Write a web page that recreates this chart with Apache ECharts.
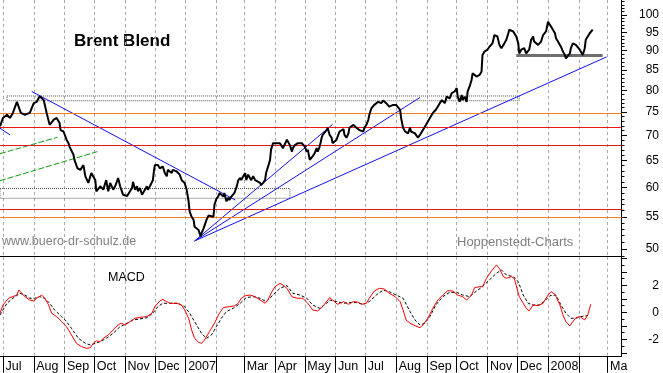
<!DOCTYPE html>
<html>
<head>
<meta charset="utf-8">
<script src="https://cdn.jsdelivr.net/npm/echarts@6/dist/echarts.min.js"></script>
<style>
html,body{margin:0;padding:0;background:#fff;}
#chart{width:663px;height:373px;}
</style>
</head>
<body>
<div id="chart"></div>
<script>
// ---------------- DATA ----------------
const priceDates = [
 '2006-06-28','2006-07-01','2006-07-05','2006-07-08','2006-07-11','2006-07-15','2006-07-16','2006-07-19','2006-07-23','2006-07-25','2006-07-28',
 '2006-08-01','2006-08-04','2006-08-07','2006-08-11','2006-08-14','2006-08-17','2006-08-21','2006-08-24','2006-08-27','2006-08-28','2006-08-31',
 '2006-09-03','2006-09-05','2006-09-06','2006-09-10','2006-09-11','2006-09-14','2006-09-17','2006-09-18','2006-09-20','2006-09-22','2006-09-25','2006-09-28',
 '2006-10-02','2006-10-03','2006-10-07','2006-10-10','2006-10-13','2006-10-15','2006-10-17','2006-10-20','2006-10-22','2006-10-25','2006-10-27','2006-10-30',
 '2006-11-03','2006-11-04','2006-11-08','2006-11-09','2006-11-11','2006-11-13','2006-11-14','2006-11-16','2006-11-18','2006-11-19','2006-11-23','2006-11-24','2006-11-26','2006-11-29','2006-11-30',
 '2006-12-01','2006-12-03','2006-12-04','2006-12-06','2006-12-09','2006-12-11','2006-12-13','2006-12-14','2006-12-16','2006-12-18','2006-12-19','2006-12-23','2006-12-26','2006-12-28','2006-12-31',
 '2007-01-02','2007-01-04','2007-01-05','2007-01-07','2007-01-09','2007-01-10','2007-01-12','2007-01-14','2007-01-16','2007-01-17','2007-01-19','2007-01-20','2007-01-22','2007-01-24','2007-01-25','2007-01-29','2007-01-30',
 '2007-02-01','2007-02-03','2007-02-04','2007-02-06','2007-02-08','2007-02-09','2007-02-11','2007-02-13','2007-02-14','2007-02-16','2007-02-18','2007-02-19','2007-02-21','2007-02-23','2007-02-25','2007-02-26','2007-02-28',
 '2007-03-02','2007-03-03','2007-03-05','2007-03-07','2007-03-08','2007-03-10','2007-03-12','2007-03-13','2007-03-17','2007-03-18','2007-03-20','2007-03-22','2007-03-23','2007-03-25','2007-03-27','2007-03-28','2007-03-30',
 '2007-04-01','2007-04-02','2007-04-04','2007-04-06','2007-04-07','2007-04-09','2007-04-11','2007-04-13','2007-04-14','2007-04-16','2007-04-18','2007-04-19','2007-04-21','2007-04-23','2007-04-24','2007-04-26','2007-04-28','2007-04-29',
 '2007-05-01','2007-05-03','2007-05-04','2007-05-06','2007-05-08','2007-05-09','2007-05-11','2007-05-13','2007-05-14','2007-05-16','2007-05-18','2007-05-19','2007-05-21','2007-05-23','2007-05-24','2007-05-26','2007-05-28','2007-05-29','2007-05-31',
 '2007-06-02','2007-06-03','2007-06-05','2007-06-07','2007-06-09','2007-06-10','2007-06-12','2007-06-14','2007-06-15','2007-06-17','2007-06-19','2007-06-20','2007-06-22','2007-06-25','2007-06-27','2007-06-29','2007-06-30',
 '2007-07-02','2007-07-04','2007-07-05','2007-07-07','2007-07-09','2007-07-10','2007-07-12','2007-07-14','2007-07-15','2007-07-17','2007-07-19','2007-07-20','2007-07-22','2007-07-24','2007-07-25','2007-07-27','2007-07-29','2007-07-31',
 '2007-08-01','2007-08-03','2007-08-05','2007-08-06','2007-08-08','2007-08-10','2007-08-11','2007-08-13','2007-08-15','2007-08-16','2007-08-18','2007-08-20','2007-08-21','2007-08-23','2007-08-25','2007-08-28','2007-08-31',
 '2007-09-04','2007-09-07','2007-09-10','2007-09-14','2007-09-16','2007-09-17','2007-09-19','2007-09-21','2007-09-22','2007-09-24','2007-09-26','2007-09-27','2007-09-29',
 '2007-10-01','2007-10-02','2007-10-04','2007-10-06','2007-10-07','2007-10-09','2007-10-11','2007-10-12','2007-10-14','2007-10-16','2007-10-17','2007-10-19','2007-10-21','2007-10-24','2007-10-26','2007-10-27','2007-10-29','2007-10-31',
 '2007-11-01','2007-11-03','2007-11-05','2007-11-06','2007-11-08','2007-11-10','2007-11-11','2007-11-13','2007-11-15','2007-11-17','2007-11-18','2007-11-20','2007-11-22','2007-11-23','2007-11-25','2007-11-27','2007-11-28','2007-11-30',
 '2007-12-02','2007-12-03','2007-12-05','2007-12-07','2007-12-08','2007-12-10','2007-12-12','2007-12-13','2007-12-15','2007-12-17','2007-12-18','2007-12-20','2007-12-22','2007-12-23','2007-12-25','2007-12-27','2007-12-28','2007-12-30',
 '2008-01-01','2008-01-03','2008-01-04','2008-01-06','2008-01-08','2008-01-09','2008-01-11','2008-01-13','2008-01-14','2008-01-16','2008-01-18','2008-01-19','2008-01-21','2008-01-23','2008-01-24','2008-01-26','2008-01-28','2008-01-29','2008-01-31',
 '2008-02-02','2008-02-03','2008-02-05','2008-02-07','2008-02-08','2008-02-10','2008-02-12','2008-02-13','2008-02-15'
];
const priceValues = [
 71.9,73.7,74.4,73.7,74.8,77.3,77.0,74.8,74.4,74.1,74.8,
 77.0,77.3,78.6,77.7,74.8,72.2,73.3,73.7,72.6,71.1,70.8,
 69.1,68.4,67.7,66.1,65.1,63.5,63.2,63.5,64.1,62.0,60.8,62.6,
 61.3,59.3,60.2,59.6,61.3,59.3,60.8,59.6,60.2,61.7,60.2,58.7,
 58.5,58.7,59.9,61.0,59.6,60.2,59.3,59.9,58.7,59.0,60.2,59.6,60.2,61.3,62.9,
 64.1,63.8,64.1,63.5,63.8,62.6,62.0,63.2,63.5,62.6,63.2,62.9,62.3,61.3,60.8,
 59.6,57.5,55.9,55.0,54.5,53.4,53.1,52.9,51.9,52.4,53.1,53.4,54.5,55.2,55.3,55.0,57.0,
 58.0,58.5,59.0,58.7,58.4,59.0,57.6,58.2,57.8,58.4,58.7,59.0,59.9,61.3,61.7,61.3,62.0,
 62.6,61.3,62.3,62.3,61.3,62.0,61.3,61.0,60.8,60.4,60.8,61.3,62.6,63.8,65.1,67.1,68.4,
 68.7,68.4,68.7,68.4,68.7,67.4,67.7,69.1,69.2,68.0,66.7,67.4,68.0,68.4,68.4,68.0,68.4,68.0,
 67.7,66.7,67.1,65.1,65.4,65.8,66.4,67.4,66.7,67.7,69.5,70.1,70.4,71.1,71.6,70.1,69.5,68.4,68.0,
 69.1,69.7,70.8,71.1,71.3,70.1,69.5,70.4,71.6,71.9,72.2,71.9,71.6,71.1,70.8,70.8,71.6,
 72.2,73.3,74.4,75.8,76.2,76.6,76.8,77.3,77.7,77.0,77.6,77.7,77.0,77.3,76.2,76.6,76.6,76.2,
 76.6,76.6,75.5,73.7,71.6,70.8,71.1,70.4,71.6,70.8,71.1,70.4,70.1,69.5,70.1,71.1,72.2,
 73.7,74.8,75.5,77.0,77.7,77.3,77.0,78.5,78.9,78.1,79.3,78.9,79.7,
 80.5,78.5,77.3,78.9,77.7,78.5,77.3,79.7,80.9,82.5,84.1,84.5,83.3,83.7,84.5,88.8,89.7,90.2,
 90.2,91.0,91.5,91.9,94.2,94.7,93.8,91.5,90.6,91.0,91.9,92.9,94.7,95.7,95.7,95.2,95.7,93.8,
 91.9,89.2,90.2,89.7,90.6,89.2,89.7,90.2,92.9,93.8,92.4,91.9,91.5,91.9,92.4,94.2,94.7,95.2,
 98.0,97.6,96.6,96.1,94.7,93.3,92.4,92.4,91.0,89.7,88.8,87.9,87.9,89.2,90.6,91.9,92.4,91.5,91.0,
 90.2,89.7,88.8,90.6,92.9,93.8,94.7,95.2,95.7
];

const macdDates = [
 '2006-06-28','2006-07-01','2006-07-05','2006-07-08','2006-07-11','2006-07-15','2006-07-17','2006-07-20','2006-07-23','2006-07-28',
 '2006-08-01','2006-08-04','2006-08-09','2006-08-12','2006-08-16','2006-08-19','2006-08-24','2006-08-29',
 '2006-09-03','2006-09-08','2006-09-13','2006-09-18','2006-09-23','2006-09-27','2006-09-30',
 '2006-10-03','2006-10-07','2006-10-10','2006-10-15','2006-10-20','2006-10-25','2006-10-28',
 '2006-11-01','2006-11-06','2006-11-11','2006-11-16','2006-11-23','2006-11-28',
 '2006-12-01','2006-12-06','2006-12-09','2006-12-13','2006-12-16','2006-12-23','2006-12-28','2006-12-31',
 '2007-01-04','2007-01-07','2007-01-10','2007-01-14','2007-01-17','2007-01-20','2007-01-25','2007-01-30',
 '2007-02-04','2007-02-08','2007-02-14','2007-02-19','2007-02-23','2007-02-26',
 '2007-03-02','2007-03-07','2007-03-12','2007-03-17','2007-03-22','2007-03-25','2007-03-28',
 '2007-04-01','2007-04-06','2007-04-09','2007-04-13','2007-04-18','2007-04-23','2007-04-29',
 '2007-05-04','2007-05-09','2007-05-14','2007-05-19','2007-05-26','2007-05-29',
 '2007-06-03','2007-06-09','2007-06-14','2007-06-19','2007-06-24','2007-06-27',
 '2007-07-02','2007-07-05','2007-07-10','2007-07-15','2007-07-20','2007-07-25','2007-07-31',
 '2007-08-05','2007-08-08','2007-08-11','2007-08-15','2007-08-20','2007-08-25','2007-08-28',
 '2007-09-02','2007-09-07','2007-09-12','2007-09-17','2007-09-22','2007-09-27',
 '2007-10-02','2007-10-07','2007-10-11','2007-10-16','2007-10-19','2007-10-24','2007-10-27','2007-10-31',
 '2007-11-05','2007-11-10','2007-11-13','2007-11-17','2007-11-20','2007-11-25','2007-11-28',
 '2007-12-03','2007-12-07','2007-12-10','2007-12-13','2007-12-17','2007-12-22','2007-12-27',
 '2008-01-01','2008-01-04','2008-01-08','2008-01-13','2008-01-16','2008-01-19','2008-01-23','2008-01-26','2008-01-29',
 '2008-02-02','2008-02-07','2008-02-10','2008-02-13'
];
const macdValues = [
 -0.07,0.54,0.91,1.09,1.16,1.28,1.65,1.41,1.16,0.91,
 0.84,1.04,1.28,1.04,0.54,-0.07,-0.32,-0.69,
 -1.06,-1.68,-2.30,-2.54,-2.67,-2.62,-2.30,
 -2.12,-2.17,-1.93,-1.68,-1.31,-0.94,-0.81,
 -0.94,-0.69,-0.44,-0.37,-0.32,-0.07,
 0.42,0.84,0.96,0.79,0.67,0.67,0.54,0.17,
 -0.44,-1.31,-1.93,-2.22,-2.30,-2.05,-1.43,-0.81,
 -0.07,0.35,0.42,0.47,0.67,1.04,
 1.23,1.28,1.16,0.91,0.67,0.91,1.41,
 1.90,2.15,2.02,1.78,1.16,1.04,1.04,
 0.67,0.17,0.10,0.42,1.09,0.91,
 0.59,0.79,0.59,0.79,0.74,0.59,
 0.67,1.04,1.58,1.78,1.73,1.41,1.16,
 0.79,0.17,-0.57,-0.81,-0.99,-1.14,-0.94,
 -0.44,0.30,0.91,1.28,1.60,1.58,
 1.28,1.16,0.91,1.28,1.83,1.90,1.90,2.52,
 3.06,3.51,3.26,2.64,2.52,2.64,2.52,
 1.16,0.67,0.30,0.10,0.54,0.49,0.67,
 1.28,1.53,1.33,0.54,-0.20,-0.69,-1.01,-0.69,-0.40,
 -0.32,-0.57,-0.20,0.59
];

const signalDates = [
 '2006-06-28','2006-07-05','2006-07-11','2006-07-18','2006-07-23','2006-07-28',
 '2006-08-02','2006-08-07','2006-08-12','2006-08-17','2006-08-22','2006-08-29',
 '2006-09-03','2006-09-08','2006-09-15','2006-09-22','2006-09-27',
 '2006-10-02','2006-10-07','2006-10-13','2006-10-20','2006-10-27',
 '2006-11-03','2006-11-09','2006-11-16','2006-11-23','2006-11-29',
 '2006-12-04','2006-12-09','2006-12-16','2006-12-24','2006-12-31',
 '2007-01-05','2007-01-12','2007-01-17','2007-01-22','2007-01-27',
 '2007-02-01','2007-02-06','2007-02-11','2007-02-18','2007-02-25',
 '2007-03-03','2007-03-10','2007-03-17','2007-03-23','2007-03-30',
 '2007-04-06','2007-04-13','2007-04-19','2007-04-26',
 '2007-05-03','2007-05-09','2007-05-16','2007-05-23','2007-05-26',
 '2007-06-02','2007-06-09','2007-06-15','2007-06-22','2007-06-29',
 '2007-07-05','2007-07-12','2007-07-19','2007-07-25',
 '2007-08-01','2007-08-08','2007-08-15','2007-08-20','2007-08-25','2007-08-30',
 '2007-09-04','2007-09-10','2007-09-17','2007-09-24',
 '2007-10-01','2007-10-07','2007-10-14','2007-10-21','2007-10-27',
 '2007-11-03','2007-11-10','2007-11-15','2007-11-20','2007-11-27',
 '2007-12-02','2007-12-07','2007-12-12','2007-12-17','2007-12-23','2007-12-28',
 '2008-01-03','2008-01-09','2008-01-14','2008-01-19','2008-01-24','2008-01-29',
 '2008-02-03','2008-02-10'
];
const signalValues = [
 -0.20,0.67,1.04,1.41,1.28,1.04,
 1.04,1.16,1.04,0.67,0.17,-0.32,
 -0.69,-1.19,-1.93,-2.30,-2.42,
 -2.30,-2.17,-1.93,-1.56,-1.06,
 -0.81,-0.57,-0.49,-0.40,-0.07,
 0.42,0.67,0.67,0.67,0.42,
 -0.07,-0.94,-1.56,-1.93,-1.68,
 -1.06,-0.44,0.05,0.30,0.67,
 1.09,1.16,1.04,0.79,1.28,
 1.78,1.98,1.41,1.28,
 1.04,0.54,0.30,0.67,0.91,
 0.79,0.67,0.72,0.74,0.59,
 0.79,1.28,1.65,1.53,
 1.28,1.04,0.05,-0.57,-0.94,-0.81,
 -0.32,0.54,1.16,1.48,
 1.48,1.28,1.16,1.58,1.90,
 2.40,2.89,3.14,2.77,2.64,
 2.27,1.28,0.67,0.54,0.54,0.79,
 1.23,1.28,0.54,-0.07,-0.44,-0.44,
 -0.32,-0.25
];

// axis ticks / labels
const monthTicks = ['2006-07-01','2006-08-01','2006-09-01','2006-10-01','2006-11-01','2006-12-01','2007-01-01','2007-02-01','2007-03-01','2007-04-01','2007-05-01','2007-06-01','2007-07-01','2007-08-01','2007-09-01','2007-10-01','2007-11-01','2007-12-01','2008-01-01','2008-02-01','2008-03-01'];
const monthLabels = ['Jul','Aug','Sep','Oct','Nov','Dec','2007','','Mar','Apr','May','Jun','Jul','Aug','Sep','Oct','Nov','Dec','2008','','Mar'];
const priceTickLabels = [50,55,60,65,70,75,80,85,90,95,100];
const macdTickLabels = [-2,0,2];

// drawn annotations (in data units)
const blueLines = [
 [['2006-07-30',79.7],['2007-02-20',57.8]],
 [['2006-06-28',71.5],['2006-07-08',70.1]],
 [['2007-01-10',51.2],['2007-05-29',72.3]],
 [['2007-01-10',51.2],['2007-08-25',78.3]],
 [['2007-01-10',51.2],['2008-02-29',88.3]]
];
const greenLines = [
 [['2006-06-28',66.3],['2006-08-25',69.6]],
 [['2006-06-28',61.2],['2006-10-04',66.7]]
];
const redLevels = [71.7, 68.0, 56.24];
const orangeLevels = [74.73, 54.92];
const supportLine = [['2007-11-30',88.77],['2008-02-25',88.77]];
const boxes = [
 [['2006-07-05',78.65],['2007-12-03',77.55]],
 [['2006-06-28',59.8],['2007-04-16',58.1]]
];

// ---------------- CHART ----------------
const FONT = '"Liberation Sans", Arial, sans-serif';
// dates -> timestamps (UTC) for a linear value x-axis
function ts(s) { const p = s.split('-'); return Date.UTC(+p[0], +p[1] - 1, +p[2]); }
const X_MIN = ts('2006-06-28'), X_MAX = ts('2008-03-15');
const tickTs = monthTicks.map(ts);
const labelMap = {};
tickTs.forEach((t, i) => { labelMap[t] = monthLabels[i]; });
function monthLabel(v) {
  let best = '', bd = Infinity;
  for (const k in labelMap) { const d = Math.abs(+k - v); if (d < bd) { bd = d; best = labelMap[k]; } }
  return bd < 86400000 ? best : '';
}
const pt = (c) => [ts(c[0]), c[1]];
const priceMinorTicks = [];
for (let v = 49; v <= 104; v++) priceMinorTicks.push(v);
const macdMinorTicks = [];
for (let v = -3; v <= 4; v += 0.5) macdMinorTicks.push(v);
const macdMajorTicks = [-3,-2,-1,0,1,2,3,4];

const gridSplit = {show: true, lineStyle: {color: '#a8a8a8', type: [3, 3], width: 1}};

const markLineData = [];
blueLines.forEach(l => markLineData.push([
  {coord: pt(l[0]), lineStyle: {color: '#1010f0', width: 1, type: 'solid'}}, {coord: pt(l[1])}
]));
greenLines.forEach(l => markLineData.push([
  {coord: pt(l[0]), lineStyle: {color: '#109a10', width: 1, type: [6, 2]}}, {coord: pt(l[1])}
]));
redLevels.forEach(v => markLineData.push({yAxis: v, lineStyle: {color: '#e81818', width: 1, type: 'solid'}}));
orangeLevels.forEach(v => markLineData.push({yAxis: v, lineStyle: {color: '#f2801e', width: 1, type: 'solid'}}));
markLineData.push([
  {coord: pt(supportLine[0]), lineStyle: {color: '#6e6e6e', width: 3, type: 'solid'}}, {coord: pt(supportLine[1])}
]);

const chart = echarts.init(document.getElementById('chart'), null, {renderer: 'canvas'});
const xBase = {type: 'value', min: X_MIN, max: X_MAX, position: 'bottom', scale: true};
chart.setOption({
  animation: false,
  backgroundColor: '#ffffff',
  textStyle: {fontFamily: FONT},
  grid: [
    {left: 0, right: 41.5, top: 0, height: 256.7, containLabel: false, outerBoundsMode: 'none'},
    {left: 0, right: 41.5, top: 256.7, height: 100, containLabel: false, outerBoundsMode: 'none'}
  ],
  xAxis: [
    Object.assign({}, xBase, {gridIndex: 0,
     axisLine: {show: true, onZero: false, lineStyle: {color: '#000', width: 1}},
     axisTick: {show: false, customValues: tickTs},
     axisLabel: {show: false},
     splitLine: gridSplit}),
    Object.assign({}, xBase, {gridIndex: 1,
     axisLine: {show: true, onZero: false, lineStyle: {color: '#000', width: 1}},
     axisTick: {show: true, customValues: tickTs, length: 16, lineStyle: {color: '#000', width: 1}},
     axisLabel: {show: true, customValues: tickTs.slice(0, tickTs.length - 1),
       formatter: v => monthLabel(v), align: 'left', padding: [0, 0, 0, 2.5], margin: 3,
       color: '#000', fontSize: 12.5, fontFamily: FONT},
     splitLine: gridSplit}),
    Object.assign({}, xBase, {gridIndex: 1,
     axisLine: {show: false}, axisTick: {show: false}, splitLine: {show: false},
     axisLabel: {show: true, customValues: tickTs.slice(tickTs.length - 1),
       formatter: v => monthLabel(v), align: 'left', padding: [0, 0, 0, 2.5], margin: 3,
       width: 21, overflow: 'truncate', ellipsis: '',
       color: '#000', fontSize: 12.5, fontFamily: FONT}})
  ],
  yAxis: [
    {type: 'log', logBase: 10, gridIndex: 0, position: 'right', min: 48.87, max: 104.5,
     axisLine: {show: true, lineStyle: {color: '#000', width: 1}},
     axisTick: {show: true, inside: false, length: 3, customValues: priceMinorTicks, lineStyle: {color: '#000'}},
     axisLabel: {show: false}, splitLine: {show: false}},
    {type: 'log', logBase: 10, gridIndex: 0, position: 'right', min: 48.87, max: 104.5,
     axisLine: {show: false},
     axisTick: {show: true, inside: false, length: 5.5, customValues: priceTickLabels, lineStyle: {color: '#000'}},
     axisLabel: {show: true, customValues: priceTickLabels, formatter: v => String(Math.round(v)),
       align: 'right', margin: 37.5, color: '#000', fontSize: 12, fontFamily: FONT},
     splitLine: {show: false}},
    {type: 'value', gridIndex: 1, position: 'right', min: -3.29, max: 4.12,
     axisLine: {show: true, lineStyle: {color: '#000', width: 1}},
     axisTick: {show: true, inside: false, length: 3, customValues: macdMinorTicks, lineStyle: {color: '#000'}},
     axisLabel: {show: false}, splitLine: {show: false}},
    {type: 'value', gridIndex: 1, position: 'right', min: -3.29, max: 4.12,
     axisLine: {show: false},
     axisTick: {show: true, inside: false, length: 5.5, customValues: macdMajorTicks, lineStyle: {color: '#000'}},
     axisLabel: {show: true, customValues: macdTickLabels, formatter: v => String(Math.round(v)),
       align: 'right', margin: 37.5, color: '#000', fontSize: 12, fontFamily: FONT},
     splitLine: {show: false}}
  ],
  series: [
    {name: 'annotations', type: 'line', xAxisIndex: 0, yAxisIndex: 0, data: [], z: 1, silent: true,
     markArea: {silent: true, z: 1,
       itemStyle: {color: 'rgba(255,255,255,0)', borderColor: '#555', borderWidth: 1, borderType: 'dotted'},
       label: {show: false}, emphasis: {disabled: true},
       data: boxes.map(b => [{coord: pt(b[0])}, {coord: pt(b[1])}])},
     markLine: {silent: true, symbol: ['none', 'none'], label: {show: false}, emphasis: {disabled: true},
       animation: false, data: markLineData}},
    {name: 'Brent', type: 'line', xAxisIndex: 0, yAxisIndex: 0, z: 5,
     data: priceDates.map((d, i) => [ts(d), priceValues[i]]),
     showSymbol: false, symbol: 'none', lineStyle: {color: '#000', width: 2}, silent: true},
    {name: 'MACD', type: 'line', xAxisIndex: 1, yAxisIndex: 2, z: 5,
     data: macdDates.map((d, i) => [ts(d), macdValues[i]]),
     showSymbol: false, symbol: 'none', lineStyle: {color: '#ff0000', width: 1}, silent: true},
    {name: 'Signal', type: 'line', xAxisIndex: 1, yAxisIndex: 2, z: 4,
     data: signalDates.map((d, i) => [ts(d), signalValues[i]]),
     showSymbol: false, symbol: 'none', lineStyle: {color: '#000', width: 1, type: [3, 2]}, silent: true}
  ],
  graphic: [
    {type: 'text', x: 74, y: 41.5, silent: true,
     style: {text: 'Brent Blend', font: 'bold 17px ' + FONT, fill: '#000', verticalAlign: 'middle'}},
    {type: 'text', x: 2, y: 241.5, silent: true,
     style: {text: 'www.buero-dr-schulz.de', font: '12.5px ' + FONT, fill: '#808080', verticalAlign: 'middle'}},
    {type: 'text', x: 457, y: 242, silent: true,
     style: {text: 'Hoppenstedt-Charts', font: '13px ' + FONT, fill: '#808080', verticalAlign: 'middle'}},
    {type: 'text', x: 108, y: 278, silent: true,
     style: {text: 'MACD', font: '12.5px ' + FONT, fill: '#000', verticalAlign: 'middle'}}
  ]
});
</script>
</body>
</html>
